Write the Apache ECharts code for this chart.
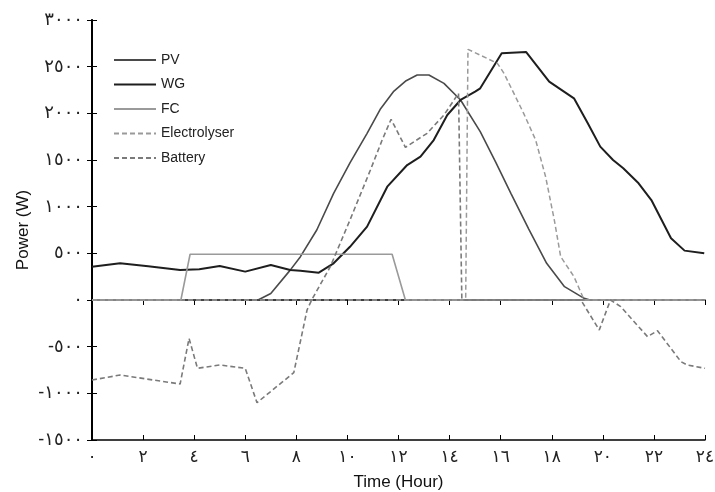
<!DOCTYPE html>
<html>
<head>
<meta charset="utf-8">
<script src="https://cdn.jsdelivr.net/npm/echarts@6/dist/echarts.min.js"></script>
<style>
  html, body { margin: 0; padding: 0; background: #fff; }
  #chart { width: 715px; height: 492px; }
</style>
</head>
<body>
<div id="chart"></div>
<script>
// [hour, watt] pairs
const pvData = [[0, 0], [6.5, 0], [7, 70], [7.76, 320], [8.16, 464], [8.8, 750], [9.46, 1143], [10.1, 1470], [10.77, 1786], [11.3, 2050], [11.8, 2232], [12.3, 2350], [12.73, 2411], [13.19, 2411], [13.78, 2321], [14.43, 2143], [15.2, 1804], [15.8, 1480], [16.4, 1143], [17.1, 760], [17.8, 393], [18.5, 143], [19.27, 18], [19.5, 0], [24, 0]];
const wgData = [[0, 357], [1.1, 393], [2.2, 362], [3.45, 321], [4.2, 330], [5.0, 364], [6.0, 304], [7.0, 375], [7.76, 321], [8.16, 314], [8.88, 293], [9.46, 393], [10.1, 570], [10.77, 786], [11.56, 1214], [12.34, 1446], [12.86, 1536], [13.38, 1714], [13.91, 1982], [14.43, 2143], [15.0, 2232], [15.2, 2268], [16.04, 2643], [17.0, 2657], [17.9, 2339], [18.87, 2161], [19.4, 1900], [19.9, 1643], [20.4, 1500], [20.8, 1411], [21.4, 1250], [21.9, 1071], [22.67, 661], [23.2, 529], [23.97, 500]];
const fcData = [[0, 0], [3.48, 0], [3.84, 490], [11.75, 490], [12.27, 0], [24, 0]];
const electrolyserData = [[0, 0], [14.63, 0], [14.72, 2686], [15.87, 2536], [16.13, 2429], [16.9, 2000], [17.37, 1714], [17.76, 1321], [18.1, 857], [18.35, 464], [18.87, 250], [19.27, 0], [24, 0]];
const batteryData = [[0, -857], [1.1, -804], [3.45, -900], [3.8, -411], [4.13, -732], [5.0, -696], [6.0, -732], [6.46, -1100], [7.9, -779], [8.42, -107], [8.6, 0], [9.33, 357], [10.1, 857], [10.9, 1393], [11.36, 1714], [11.71, 1936], [12.27, 1636], [13.12, 1786], [13.78, 1982], [14.35, 2214], [14.48, 0], [19.14, 0], [19.86, -321], [20.3, 0], [20.7, -71], [21.75, -393], [22.14, -329], [23.06, -661], [23.3, -696], [24, -732]];

// axis ranges
const hourTicks = [0, 2, 4, 6, 8, 10, 12, 14, 16, 18, 20, 22, 24];
const powerTicks = [-1500, -1000, -500, 0, 500, 1000, 1500, 2000, 2500, 3000];

const FONT = 'Liberation Sans, Arial, DejaVu Sans, sans-serif';

// western digits -> arabic-indic digits
function toArabic(n) {
    return String(n).replace(/[0-9]/g, d => String.fromCharCode(0x0660 + Number(d)));
}

const chart = echarts.init(document.getElementById('chart'), null, {
    width: 715,
    height: 492,
    renderer: 'canvas'
});

function lineSeries(name, data, color, width, type) {
    return {
        name,
        type: 'line',
        data,
        symbol: 'none',
        smooth: false,
        animation: false,
        lineStyle: { color, width, type },
        itemStyle: { color }
    };
}

const option = {
    backgroundColor: '#ffffff',
    animation: false,
    grid: { left: 92, right: 10, top: 20, bottom: 52, outerBoundsMode: 'none' },
    legend: {
        orient: 'vertical',
        left: 108,
        top: 48,
        itemWidth: 42,
        itemHeight: 14,
        itemGap: 10.5,
        itemStyle: { opacity: 0 },
        textStyle: { fontFamily: FONT, fontSize: 14, color: '#222' },
        data: ['PV', 'WG', 'FC', 'Electrolyser', 'Battery']
    },
    xAxis: [{
        type: 'value',
        min: hourTicks[0],
        max: hourTicks[hourTicks.length - 1],
        interval: 2,
        name: 'Time (Hour)',
        nameLocation: 'middle',
        nameGap: 34,
        nameTextStyle: { fontFamily: FONT, fontSize: 17, color: '#111' },
        axisLine: { show: true, onZero: false, lineStyle: { color: '#000', width: 1.5 } },
        axisTick: { inside: true, length: 5, lineStyle: { color: '#000' } },
        axisLabel: { formatter: v => toArabic(v), fontFamily: FONT, fontSize: 17, color: '#222', margin: 9 },
        splitLine: { show: false }
    }, {
        type: 'value',
        position: 'top',
        min: 0,
        max: 24,
        interval: 2,
        axisLine: { show: true, lineStyle: { color: '#000', width: 1.5 } },
        axisTick: { inside: true, length: 5, lineStyle: { color: '#000' } },
        axisLabel: { show: false },
        splitLine: { show: false }
    }],
    yAxis: [{
        type: 'value',
        min: powerTicks[0],
        max: powerTicks[powerTicks.length - 1],
        interval: 500,
        name: 'Power (W)',
        nameLocation: 'middle',
        nameGap: 60,
        nameMoveOverlap: false,
        nameTextStyle: { fontFamily: FONT, fontSize: 17, color: '#111' },
        axisLine: { show: true, onZero: false, lineStyle: { color: '#000', width: 2 } },
        axisTick: { inside: true, length: 5, lineStyle: { color: '#000' } },
        axisLabel: { formatter: v => toArabic(v), fontFamily: FONT, fontSize: 18, color: '#222', margin: 9 },
        splitLine: { show: false }
    }, {
        type: 'value',
        position: 'right',
        min: -1500,
        max: 3000,
        interval: 500,
        axisLine: { show: true, lineStyle: { color: '#000', width: 1.5 } },
        axisTick: { inside: true, length: 5, lineStyle: { color: '#000' } },
        axisLabel: { show: false },
        splitLine: { show: false }
    }],
    series: [
        lineSeries('PV', pvData, '#4a4a4a', 1.6, 'solid'),
        lineSeries('WG', wgData, '#1e1e1e', 2, 'solid'),
        lineSeries('FC', fcData, '#9a9a9a', 1.6, 'solid'),
        lineSeries('Electrolyser', electrolyserData, '#9a9a9a', 1.5, [5, 3]),
        lineSeries('Battery', batteryData, '#7a7a7a', 1.6, [5, 3])
    ]
};

chart.setOption(option);
</script>
</body>
</html>
